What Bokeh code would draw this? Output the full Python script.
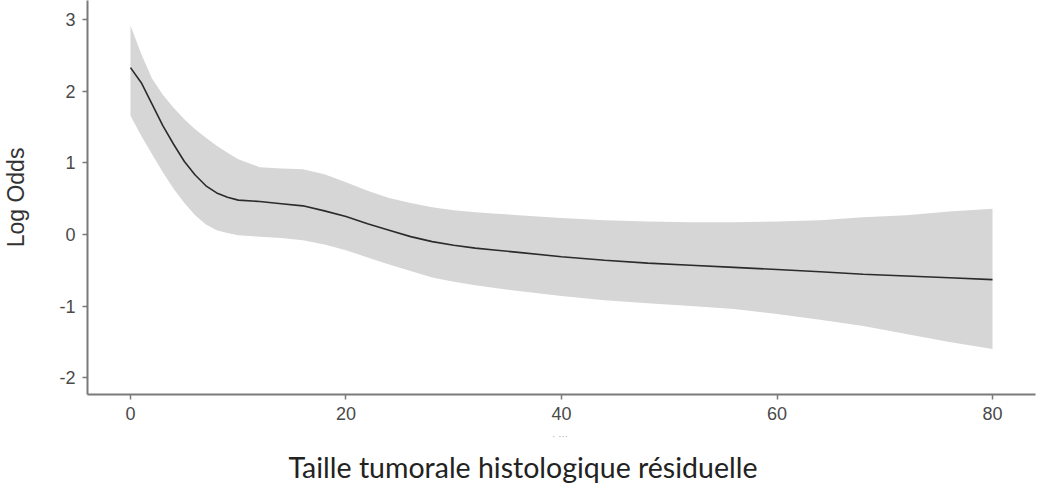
from bokeh.plotting import figure
from bokeh.models import FixedTicker, Range1d, Title
from bokeh.embed import file_html
from bokeh.resources import INLINE

# ---- data ----
size_x = [0, 1, 2, 3, 4, 5, 6, 7, 8, 9, 10, 12, 14, 16, 18, 20, 22, 24, 26, 28,
          30, 32, 34, 36, 40, 44, 48, 52, 56, 60, 64, 68, 72, 76, 80]
log_odds = [2.33, 2.12, 1.82, 1.52, 1.26, 1.02, 0.83, 0.68, 0.58, 0.52, 0.48, 0.46,
            0.43, 0.40, 0.33, 0.25, 0.15, 0.06, -0.03, -0.10, -0.15, -0.19, -0.22,
            -0.25, -0.31, -0.36, -0.40, -0.43, -0.46, -0.49, -0.52, -0.555, -0.58,
            -0.605, -0.63]
upper = [2.92, 2.52, 2.18, 1.95, 1.77, 1.61, 1.47, 1.35, 1.24, 1.14, 1.05, 0.94,
         0.92, 0.91, 0.84, 0.73, 0.61, 0.51, 0.44, 0.38, 0.34, 0.31, 0.29, 0.27,
         0.23, 0.20, 0.18, 0.17, 0.17, 0.18, 0.20, 0.24, 0.27, 0.32, 0.36]
lower = [1.66, 1.38, 1.12, 0.87, 0.64, 0.44, 0.27, 0.14, 0.06, 0.02, -0.01, -0.03,
         -0.05, -0.08, -0.14, -0.22, -0.32, -0.42, -0.51, -0.60, -0.66, -0.71, -0.75,
         -0.79, -0.86, -0.92, -0.96, -1.00, -1.04, -1.11, -1.19, -1.28, -1.39, -1.50,
         -1.60]
x_ticks = [0, 20, 40, 60, 80]
y_ticks = [-2, -1, 0, 1, 2, 3]
y_label = "Log Odds"
x_title = "Taille tumorale histologique résiduelle"
x_remnant = "·  ···"

p = figure(width=1045, height=490, output_backend="svg", toolbar_location=None,
           x_range=Range1d(-3.99, 83.99), y_range=Range1d(-2.235, 3.268),
           min_border_left=87, min_border_right=10, min_border_top=0,
           min_border_bottom=96)
p.outline_line_color = None
p.xgrid.visible = False
p.ygrid.visible = False
p.background_fill_color = "white"
p.border_fill_color = "white"

p.varea(x=size_x, y1=lower, y2=upper, fill_color="#d6d6d6", fill_alpha=1.0)
p.line(x=size_x, y=log_odds, line_color="#2b2b2b", line_width=1.6)

for ax in (p.xaxis[0], p.yaxis[0]):
    ax.axis_line_color = "#7a7a7a"
    ax.axis_line_width = 2
    ax.major_tick_line_color = "#7a7a7a"
    ax.major_tick_line_width = 1.5
    ax.major_tick_out = 5
    ax.major_tick_in = 0
    ax.minor_tick_line_color = None
    ax.major_label_text_font = "Liberation Sans"
    ax.major_label_text_font_size = "18px"
    ax.major_label_text_color = "#4a4a4a"
    ax.major_label_standoff = 7

p.xaxis[0].ticker = FixedTicker(ticks=x_ticks)
p.yaxis[0].ticker = FixedTicker(ticks=y_ticks)
p.yaxis[0].major_label_overrides = {t: str(t) for t in y_ticks}

# y axis title
p.yaxis[0].axis_label = y_label
p.yaxis[0].axis_label_text_font = "Liberation Sans"
p.yaxis[0].axis_label_text_font_size = "23px"
p.yaxis[0].axis_label_text_font_style = "normal"
p.yaxis[0].axis_label_text_color = "#333333"
p.yaxis[0].axis_label_text_line_height = 0.9
p.yaxis[0].axis_label_standoff = 27

# faint remnant text under the x axis
p.xaxis[0].axis_label = x_remnant
p.xaxis[0].axis_label_text_font = "Liberation Sans"
p.xaxis[0].axis_label_text_font_size = "10px"
p.xaxis[0].axis_label_text_font_style = "normal"
p.xaxis[0].axis_label_text_color = "#b0b0b0"
p.xaxis[0].axis_label_text_line_height = 0.6
p.xaxis[0].axis_label_standoff = 8

# main x title
p.add_layout(Title(text=x_title, align="left", offset=201, standoff=6,
                   text_font="Lato", text_font_size="28.5px",
                   text_line_height=0.6,
                   text_font_style="normal", text_color="#222222"), "below")

open("out.html", "w").write(file_html(p, INLINE))
